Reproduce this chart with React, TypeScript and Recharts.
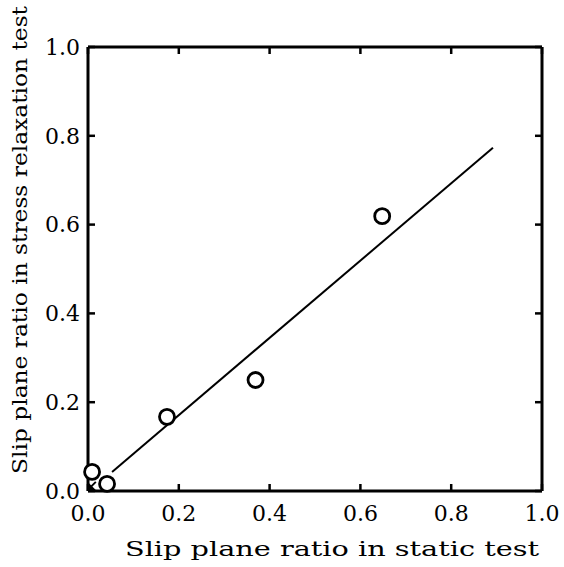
import React from 'react'
import {
  ScatterChart,
  Scatter,
  XAxis,
  YAxis,
  ReferenceLine,
} from 'recharts'

// Measured points (static test ratio vs stress relaxation test ratio)
const staticRatio = [0.009, 0.042, 0.174, 0.369, 0.648]
const relaxRatio = [0.043, 0.016, 0.167, 0.25, 0.619]

// Fitted line end points
const fitX = [0.053, 0.892]
const fitY = [0.043, 0.773]

// Small arrow mark at the origin
const originMark = [{ x: 0.004, y: 0.007 }]

const ticks = [0, 0.2, 0.4, 0.6, 0.8, 1.0]

const points = staticRatio.map((x, i) => ({ x, y: relaxRatio[i] }))

const FONT = '"DejaVu Serif", "Liberation Serif", serif'
const TICK_LEN = 7
const TS = 6 // recharts tickSize, labels sit TS + margin from the axis line
const MARGIN_X = 8
const MARGIN_Y = 2
const MARGIN_FRAME = 2

const OpenCircle = (props: { cx?: number; cy?: number }) => {
  const { cx = 0, cy = 0 } = props
  return <circle cx={cx} cy={cy} r={7.5} fill="#fff" stroke="#000" strokeWidth={2.8} />
}

// arrow pointing down-left, tip at the point
const Arrow = (props: { cx?: number; cy?: number }) => {
  const { cx = 0, cy = 0 } = props
  return (
    <g>
      <line x1={cx + 1} y1={cy - 1} x2={cx + 6} y2={cy - 6} stroke="#000" strokeWidth={2} />
      <polygon points={`${cx - 1},${cy + 2} ${cx - 1},${cy - 5} ${cx + 6},${cy + 2}`} fill="#000" />
    </g>
  )
}

const Nothing = () => <g />

const fmt = (v: number) => v.toFixed(1)

// ticks drawn inward, label outside
const BottomTick = (p: any) => {
  const ay = p.y - MARGIN_X - TS
  return (
    <g>
      <line x1={p.x} y1={ay} x2={p.x} y2={ay - TICK_LEN} stroke="#000" strokeWidth={2.5} />
      <text x={p.x} y={p.y} dy="0.71em" textAnchor="middle" fontFamily={FONT} fontSize={22} fill="#000">
        {fmt(p.payload.value)}
      </text>
    </g>
  )
}

const LeftTick = (p: any) => {
  const ax = p.x + MARGIN_Y + TS
  return (
    <g>
      <line x1={ax} y1={p.y} x2={ax + TICK_LEN} y2={p.y} stroke="#000" strokeWidth={2.5} />
      <text x={p.x} y={p.y} dy="0.355em" textAnchor="end" fontFamily={FONT} fontSize={22} fill="#000">
        {fmt(p.payload.value)}
      </text>
    </g>
  )
}

const TopTick = (p: any) => {
  const ay = p.y + MARGIN_FRAME + TS
  return <line x1={p.x} y1={ay} x2={p.x} y2={ay + TICK_LEN} stroke="#000" strokeWidth={2.5} />
}

const RightTick = (p: any) => {
  const ax = p.x - MARGIN_FRAME - TS
  return <line x1={ax} y1={p.y} x2={ax - TICK_LEN} y2={p.y} stroke="#000" strokeWidth={2.5} />
}

const axisLine = { stroke: '#000', strokeWidth: 3 }

const App: React.FC = () => {
  return (
    <div style={{ position: 'relative', width: 564, height: 567, background: '#fff' }}>
      <style>{`body{margin:0}`}</style>
      <ScatterChart
        width={564}
        height={567}
        margin={{ top: 46, right: 21, left: 0, bottom: 0 }}
        style={{ fontFamily: FONT }}
      >
        <XAxis
          xAxisId="bottom"
          dataKey="x"
          type="number"
          domain={[0, 1]}
          ticks={ticks}
          height={76}
          axisLine={axisLine}
          tickLine={false}
          tickSize={TS}
          tickMargin={MARGIN_X}
          tick={<BottomTick />}
        />
        <XAxis
          xAxisId="top"
          dataKey="x"
          orientation="top"
          type="number"
          domain={[0, 1]}
          ticks={ticks}
          height={1}
          axisLine={axisLine}
          tickLine={false}
          tickSize={TS}
          tickMargin={MARGIN_FRAME}
          tick={<TopTick />}
        />
        <YAxis
          yAxisId="left"
          dataKey="y"
          type="number"
          domain={[0, 1]}
          ticks={ticks}
          width={88}
          axisLine={axisLine}
          tickLine={false}
          tickSize={TS}
          tickMargin={MARGIN_Y}
          tick={<LeftTick />}
        />
        <YAxis
          yAxisId="right"
          dataKey="y"
          orientation="right"
          type="number"
          domain={[0, 1]}
          ticks={ticks}
          width={1}
          axisLine={axisLine}
          tickLine={false}
          tickSize={TS}
          tickMargin={MARGIN_FRAME}
          tick={<RightTick />}
        />
        <ReferenceLine
          xAxisId="bottom"
          yAxisId="left"
          segment={[
            { x: fitX[0], y: fitY[0] },
            { x: fitX[1], y: fitY[1] },
          ]}
          stroke="#000"
          strokeWidth={2}
          ifOverflow="visible"
        />
        {/* hidden series so the top and right frame axes are registered */}
        <Scatter
          xAxisId="top"
          yAxisId="right"
          data={points}
          shape={<Nothing />}
          isAnimationActive={false}
        />
        <Scatter
          xAxisId="bottom"
          yAxisId="left"
          data={originMark}
          shape={<Arrow />}
          isAnimationActive={false}
        />
        <Scatter
          xAxisId="bottom"
          yAxisId="left"
          data={points}
          shape={<OpenCircle />}
          isAnimationActive={false}
        />
      </ScatterChart>
      <svg
        width={564}
        height={567}
        style={{ position: 'absolute', left: 0, top: 0, pointerEvents: 'none' }}
      >
        <text
          x={20}
          y={240}
          transform="rotate(-90 20 240)"
          textAnchor="middle"
          dominantBaseline="central"
          fontFamily={FONT}
          fontSize={21}
          textLength={468}
          lengthAdjust="spacingAndGlyphs"
          fill="#000"
        >
          Slip plane ratio in stress relaxation test
        </text>
        <text
          x={332}
          y={556}
          textAnchor="middle"
          fontFamily={FONT}
          fontSize={21}
          textLength={414}
          lengthAdjust="spacingAndGlyphs"
          fill="#000"
        >
          Slip plane ratio in static test
        </text>
      </svg>
    </div>
  )
}

export default App
